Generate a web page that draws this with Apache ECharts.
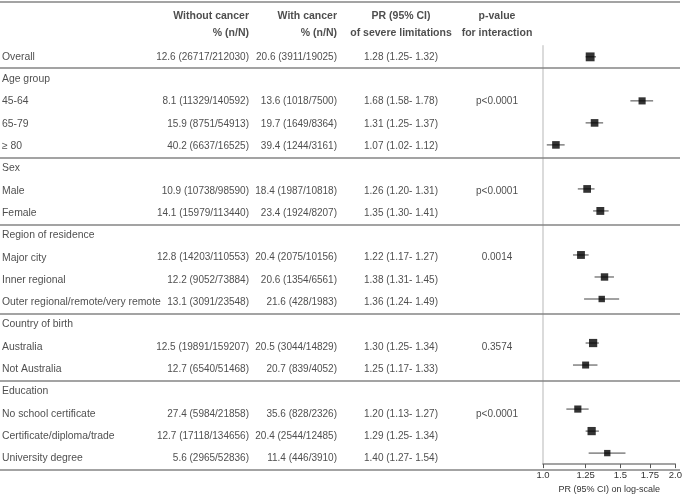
<!DOCTYPE html>
<html><head><meta charset="utf-8">
<script src="https://cdn.jsdelivr.net/npm/echarts@6/dist/echarts.min.js"></script>
<style>html,body{margin:0;padding:0;background:#fff}#c{width:685px;height:499px}</style>
</head><body><div id="c"></div>
<script>
// ---------- DATA ----------
const rowLabels = ["Overall","Age group","45-64","65-79","\u2265 80","Sex","Male","Female",
  "Region of residence","Major city","Inner regional","Outer regional/remote/very remote",
  "Country of birth","Australia","Not Australia","Education","No school certificate",
  "Certificate/diploma/trade","University degree"];
const withoutCancer = ["12.6 (26717/212030)","","8.1 (11329/140592)","15.9 (8751/54913)","40.2 (6637/16525)","",
  "10.9 (10738/98590)","14.1 (15979/113440)","","12.8 (14203/110553)","12.2 (9052/73884)","13.1 (3091/23548)","",
  "12.5 (19891/159207)","12.7 (6540/51468)","","27.4 (5984/21858)","12.7 (17118/134656)","5.6 (2965/52836)"];
const withCancer = ["20.6 (3911/19025)","","13.6 (1018/7500)","19.7 (1649/8364)","39.4 (1244/3161)","",
  "18.4 (1987/10818)","23.4 (1924/8207)","","20.4 (2075/10156)","20.6 (1354/6561)","21.6 (428/1983)","",
  "20.5 (3044/14829)","20.7 (839/4052)","","35.6 (828/2326)","20.4 (2544/12485)","11.4 (446/3910)"];
const prEstimate = [1.28,null,1.68,1.31,1.07,null,1.26,1.35,null,1.22,1.38,1.36,null,1.30,1.25,null,1.20,1.29,1.40];
const prLower    = [1.25,null,1.58,1.25,1.02,null,1.20,1.30,null,1.17,1.31,1.24,null,1.25,1.17,null,1.13,1.25,1.27];
const prUpper    = [1.32,null,1.78,1.37,1.12,null,1.31,1.41,null,1.27,1.45,1.49,null,1.34,1.33,null,1.27,1.34,1.54];
const pInteraction = ["","","p<0.0001","","","","p<0.0001","","","0.0014","","","","0.3574","","","p<0.0001","",""];
const headerLine1 = ["Without cancer","With cancer","PR (95% CI)","p-value"];
const headerLine2 = ["% (n/N)","% (n/N)","of severe limitations","for interaction"];
const xTicks = [1.0, 1.25, 1.5, 1.75, 2.0];
const xAxisTitle = "PR (95% CI) on log-scale";

// ---------- LAYOUT ----------
const FONT = "'Liberation Sans', Arial, sans-serif";
const FS_LABEL = 10.4, FS_NUM = 10.0, FS_HDR = 10.5;
const TXT = '#222';
const PITCH = 22.3, ROW0Y = 57;
const N = rowLabels.length;
const TOP_R = -2.5, BOT_R = N - 0.5;
const HDR1_R = -1.84, HDR2_R = -1.05;
const COL = {label: 2, without: 249, with: 337, pr: 401, p: 497};
const PLOT_L = 543, PLOT_W = 135;

const prText = prEstimate.map((e, i) => e == null ? "" :
  e.toFixed(2) + " (" + prLower[i].toFixed(2) + "- " + prUpper[i].toFixed(2) + ")");

// separators: top, before each group header, bottom
const seps = [TOP_R];
prEstimate.forEach((e, i) => { if (e == null) seps.push(i - 0.5); });
seps.push(BOT_R);

function textSeries(x, texts, align, fs, rowIdx, bold) {
  const pos = align === 'left' ? 'right' : align === 'right' ? 'left' : 'inside';
  return {
    type: 'scatter', xAxisIndex: 0, yAxisIndex: 0, symbolSize: 0, silent: true,
    data: texts.map((t, i) => [x, rowIdx ? rowIdx[i] : i, t]).filter(d => d[2] !== ""),
    label: {
      show: true, position: pos, distance: 0, formatter: p => p.data[2],
      fontFamily: FONT, fontSize: fs, color: TXT, fontWeight: bold ? 'bold' : 'normal'
    }
  };
}

const headerCols = [COL.without, COL.with, COL.pr, COL.p];
const headerAlign = ['right', 'right', 'center', 'center'];

const series = [
  textSeries(COL.label, rowLabels, 'left', FS_LABEL),
  textSeries(COL.without, withoutCancer, 'right', FS_NUM),
  textSeries(COL.with, withCancer, 'right', FS_NUM),
  textSeries(COL.pr, prText, 'center', FS_NUM),
  textSeries(COL.p, pInteraction, 'center', FS_NUM)
];
headerCols.forEach((x, k) => {
  series.push(textSeries(x, [headerLine1[k], headerLine2[k]], headerAlign[k], FS_HDR, [HDR1_R, HDR2_R], true));
});
// separator lines
series.push({
  type: 'line', xAxisIndex: 0, yAxisIndex: 0, data: [], silent: true,
  markLine: {
    symbol: 'none', silent: true, animation: false, label: {show: false},
    lineStyle: {color: '#858585', width: 1.5, type: 'solid'},
    data: seps.map(v => ({yAxis: v}))
  }
});
// confidence intervals
const ciData = prEstimate.map((e, i) => e == null ? null : [prLower[i], prUpper[i], i]).filter(d => d);
series.push({
  type: 'custom', xAxisIndex: 1, yAxisIndex: 1, silent: true,
  data: ciData,
  encode: {x: [0, 1], y: 2},
  renderItem: (params, api) => {
    const a = api.coord([api.value(0), api.value(2)]);
    const b = api.coord([api.value(1), api.value(2)]);
    return {type: 'line', shape: {x1: a[0], y1: a[1], x2: b[0], y2: b[1]},
      style: {stroke: '#444', lineWidth: 1}};
  }
});
// point estimates (box size from precision of the estimate)
series.push({
  type: 'scatter', xAxisIndex: 1, yAxisIndex: 1, silent: true, symbol: 'rect',
  data: prEstimate.map((e, i) => e == null ? null : [e, i, Math.log(prUpper[i] / prLower[i])]).filter(d => d),
  symbolSize: d => 3.5 + 1.25 * Math.sqrt(1 / d[2]),
  itemStyle: {color: '#000'}, z: 5
});

const option = {
  animation: false,
  backgroundColor: '#fff',
  grid: [
    {left: 0, width: 680, top: ROW0Y + TOP_R * PITCH, height: (BOT_R - TOP_R) * PITCH},
    {left: PLOT_L, width: PLOT_W, top: ROW0Y - 0.5 * PITCH, height: N * PITCH}
  ],
  xAxis: [
    {gridIndex: 0, type: 'value', min: 0, max: 680, show: false},
    {gridIndex: 1, type: 'log', logBase: 2, min: 1, max: 2, position: 'bottom',
      axisLine: {show: true, onZero: false, lineStyle: {color: '#858585', width: 1.5}},
      axisTick: {show: true, inside: false, length: 4, lineStyle: {color: '#555'}, customValues: xTicks},
      axisLabel: {fontFamily: FONT, fontSize: 9.5, color: '#333', margin: 6, customValues: xTicks,
        formatter: v => (v === 1 || v === 2) ? v.toFixed(1) : String(v)},
      splitLine: {show: false},
      name: xAxisTitle, nameLocation: 'middle', nameGap: 19,
      nameTextStyle: {fontFamily: FONT, fontSize: 9, color: '#333'}}
  ],
  yAxis: [
    {gridIndex: 0, type: 'value', inverse: true, min: TOP_R, max: BOT_R, show: false},
    {gridIndex: 1, type: 'value', inverse: true, min: -0.5, max: BOT_R,
      axisLine: {show: true, onZero: false, lineStyle: {color: '#cfcfcf', width: 1.5}},
      axisTick: {show: false}, axisLabel: {show: false}, splitLine: {show: false}}
  ],
  series: series
};
const chart = echarts.init(document.getElementById('c'));
chart.setOption(option);
</script>
</body></html>
